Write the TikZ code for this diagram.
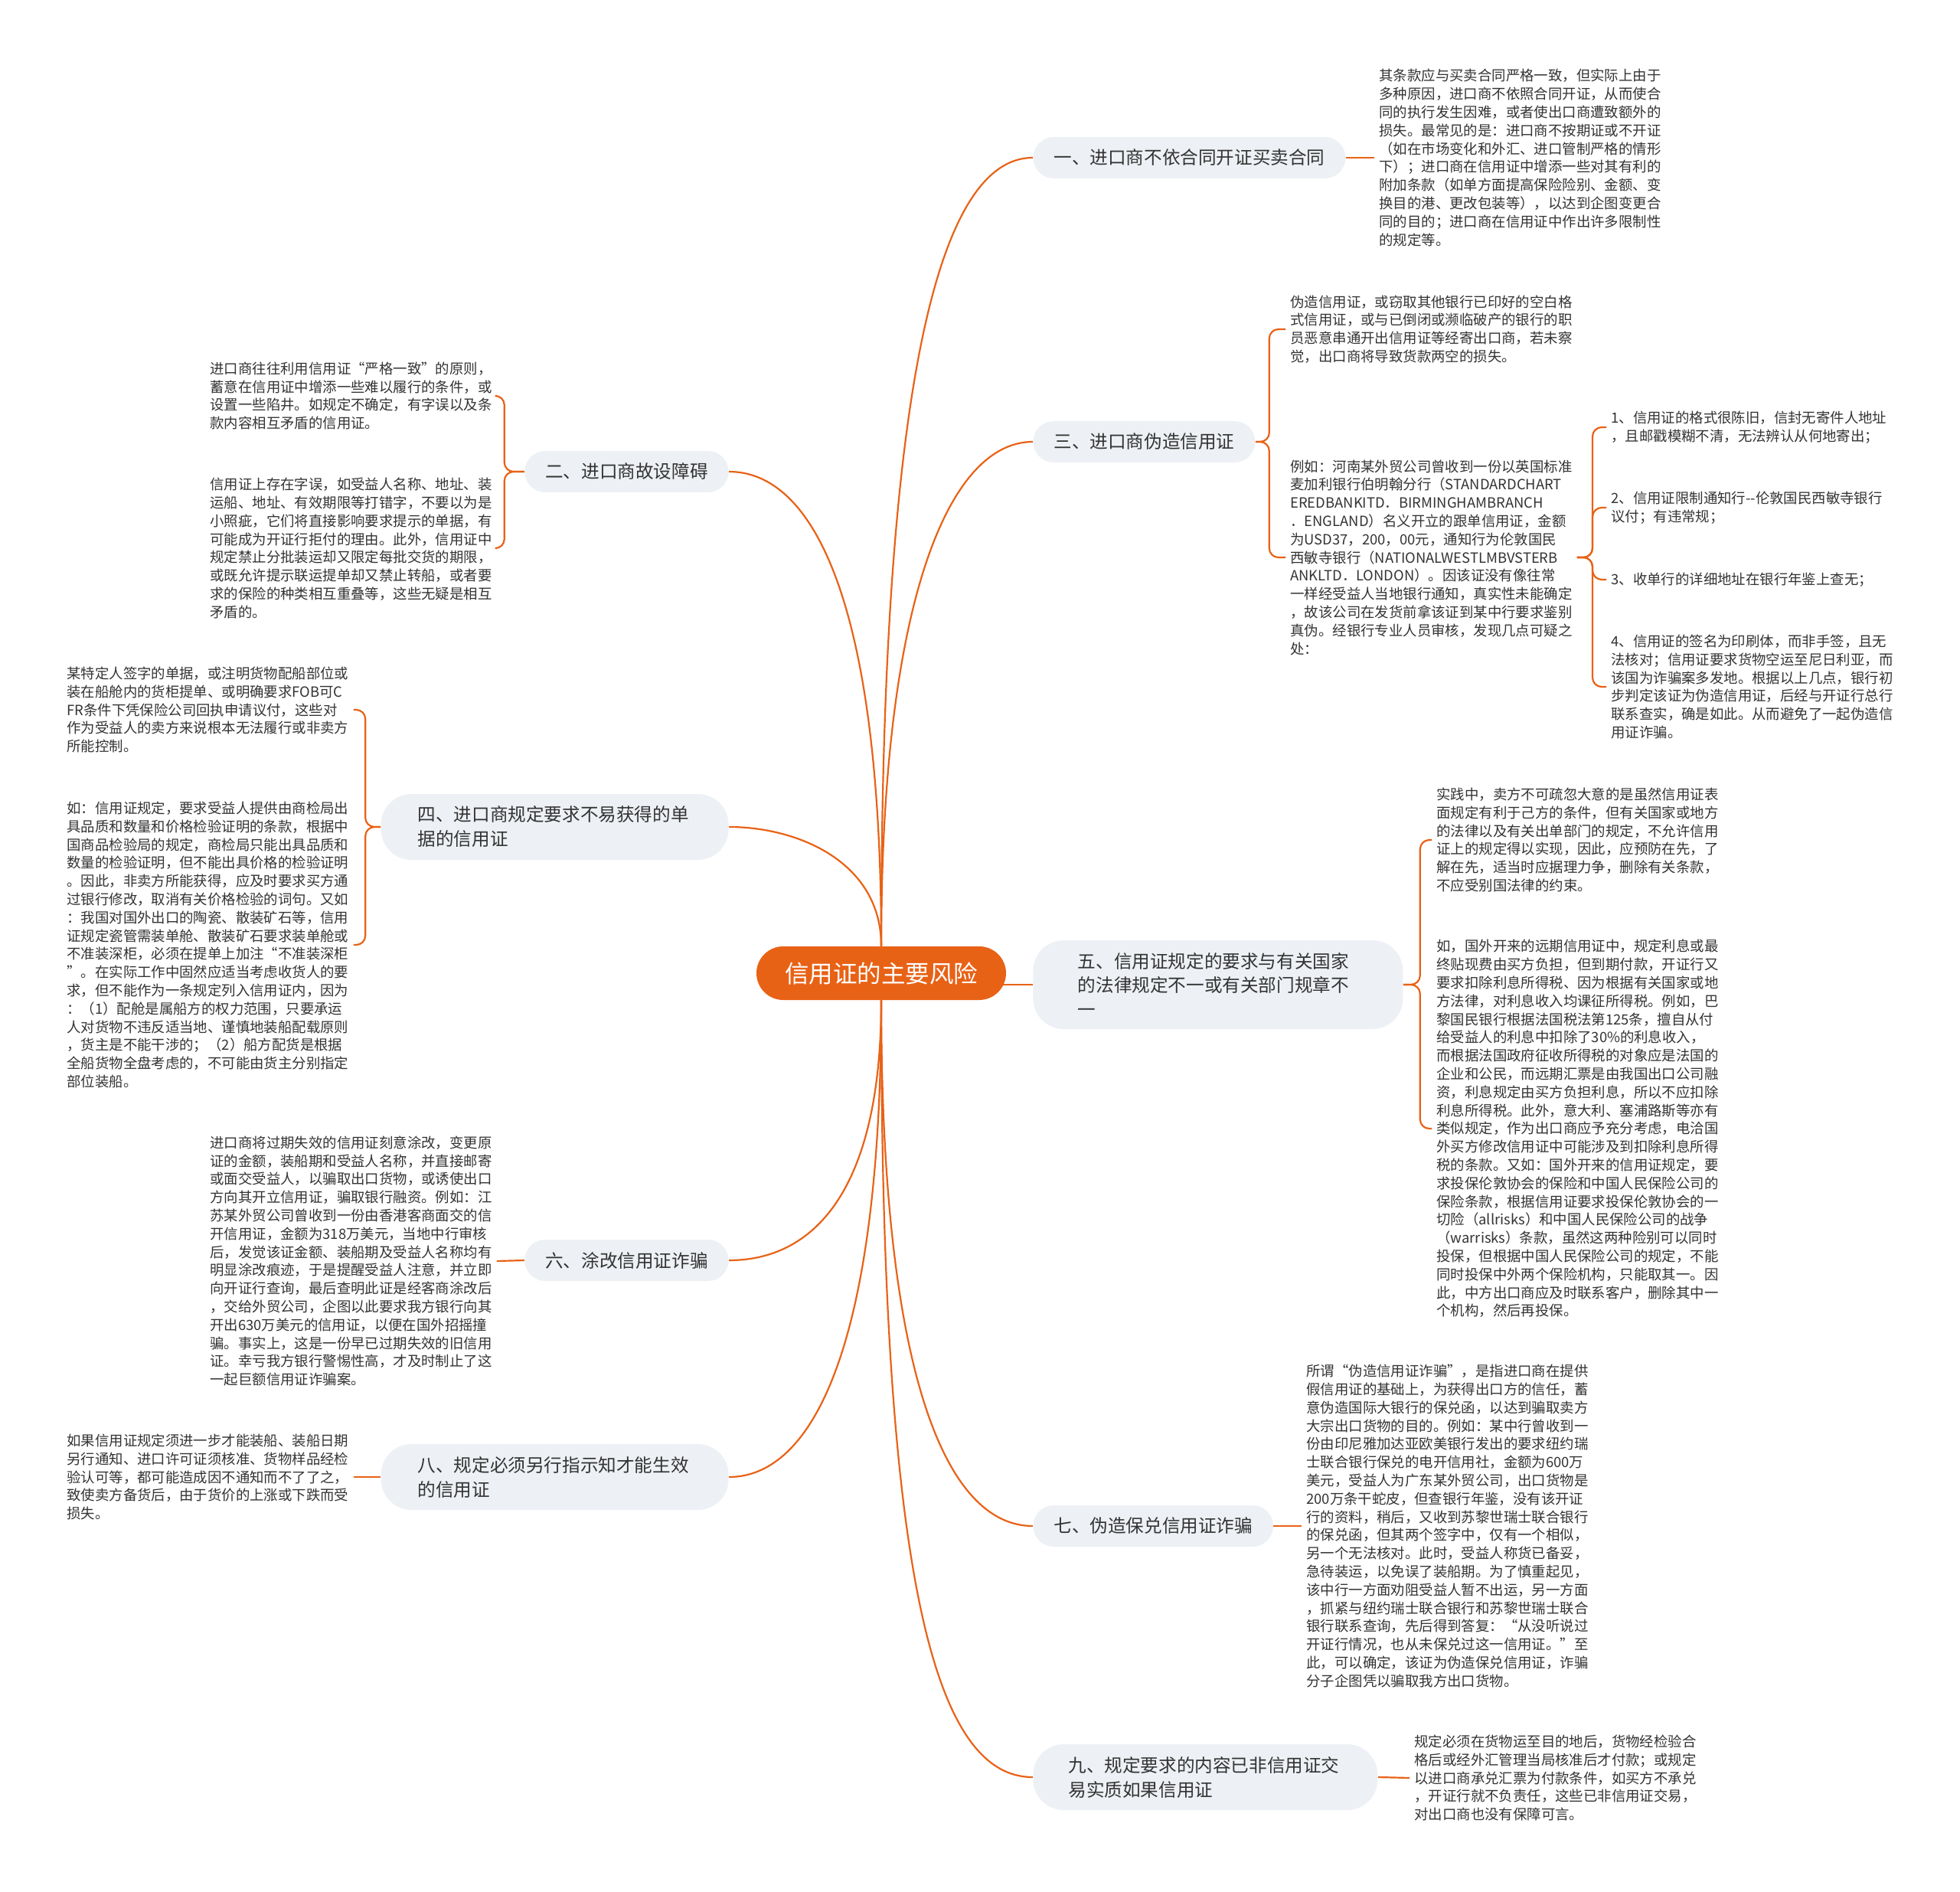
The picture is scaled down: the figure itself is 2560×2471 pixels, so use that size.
\documentclass[tikz,border=0pt]{standalone}
\usepackage{fontspec}
\newfontfamily\cjk{Noto Sans CJK SC}
\usetikzlibrary{calc}
\pgfdeclarelayer{bg}
\pgfsetlayers{bg,main}
\definecolor{org}{RGB}{232,98,22}
\definecolor{bfill}{RGB}{237,240,244}
\definecolor{txt}{RGB}{51,51,51}
\begin{document}
\begin{tikzpicture}[x=0.5pt,y=-0.5pt,
 centernode/.style={fill=org, text=white, rounded corners=17.5pt, minimum height=35pt, inner xsep=18.5pt, inner ysep=0pt, font={\cjk\fontsize{15.75pt}{18pt}\selectfont}},
 branch/.style={fill=bfill, text=txt, rounded corners=13.5pt, minimum height=27pt, inner xsep=13.5pt, inner ysep=0pt, font={\cjk\fontsize{11.8pt}{16pt}\selectfont}},
 mbranch/.style={branch, rounded corners=20pt, align=left},
 leaf/.style={text=txt, align=left, inner xsep=3pt, inner ysep=0pt, font={\cjk\fontsize{9.2pt}{11.9pt}\selectfont}},
 link/.style={draw=org, line width=1.1pt},
 brk/.style={link, rounded corners=6pt},
]
\useasboundingbox (0,0) rectangle (2560,2471);
\begin{pgfonlayer}{bg}
\fill[white] (0,0) rectangle (2560,2471);
\end{pgfonlayer}

% center
\node[centernode] (c) at (1151,1271) {信用证的主要风险};

% branches
\node[branch, anchor=west] (b1) at (1349,206) {一、进口商不依合同开证买卖合同};
\node[branch, anchor=east] (b2) at (952,616) {二、进口商故设障碍};
\node[branch, anchor=west] (b3) at (1349,577) {三、进口商伪造信用证};
\node[mbranch, anchor=east, text width=179pt, inner xsep=24pt, minimum height=43pt] (b4) at (952,1080) {四、进口商规定要求不易获得的单\\据的信用证};
\node[mbranch, anchor=west, text width=183pt, inner xsep=29.25pt, minimum height=58pt] (b5) at (1349,1286) {五、信用证规定的要求与有关国家\\的法律规定不一或有关部门规章不\\一};
\node[branch, anchor=east] (b6) at (952,1646) {六、涂改信用证诈骗};
\node[branch, anchor=west] (b7) at (1349,1993) {七、伪造保兑信用证诈骗};
\node[mbranch, anchor=east, text width=179pt, inner xsep=24pt, minimum height=43pt] (b8) at (952,1929) {八、规定必须另行指示知才能生效\\的信用证};
\node[mbranch, anchor=west, text width=179pt, inner xsep=23pt, minimum height=43pt] (b9) at (1349,2321) {九、规定要求的内容已非信用证交\\易实质如果信用证};

% leaves
\node[leaf, anchor=west] (t1) at (1795,206) {其条款应与买卖合同严格一致，但实际上由于\\多种原因，进口商不依照合同开证，从而使合\\同的执行发生因难，或者使出口商遭致额外的\\损失。最常见的是：进口商不按期证或不开证\\（如在市场变化和外汇、进口管制严格的情形\\下）；进口商在信用证中增添一些对其有利的\\附加条款（如单方面提高保险险别、金额、变\\换目的港、更改包装等），以达到企图变更合\\同的目的；进口商在信用证中作出许多限制性\\的规定等。};

\node[leaf, anchor=west] (t2a) at (268,517) {进口商往往利用信用证“严格一致”的原则，\\蓄意在信用证中增添一些难以履行的条件，或\\设置一些陷井。如规定不确定，有字误以及条\\款内容相互矛盾的信用证。};
\node[leaf, anchor=west] (t2b) at (268,716) {信用证上存在字误，如受益人名称、地址、装\\运船、地址、有效期限等打错字，不要以为是\\小照疵，它们将直接影响要求提示的单据，有\\可能成为开证行拒付的理由。此外，信用证中\\规定禁止分批装运却又限定每批交货的期限，\\或既允许提示联运提单却又禁止转船，或者要\\求的保险的种类相互重叠等，这些无疑是相互\\矛盾的。};

\node[leaf, anchor=west] (t3a) at (1679,430) {伪造信用证，或窃取其他银行已印好的空白格\\式信用证，或与已倒闭或濒临破产的银行的职\\员恶意串通开出信用证等经寄出口商，若未察\\觉，出口商将导致货款两空的损失。};
\node[leaf, anchor=west] (t3b) at (1679,728) {例如：河南某外贸公司曾收到一份以英国标准\\麦加利银行伯明翰分行（STANDARDCHART\\EREDBANKITD．BIRMINGHAMBRANCH\\．ENGLAND）名义开立的跟单信用证，金额\\为USD37，200，00元，通知行为伦敦国民\\西敏寺银行（NATIONALWESTLMBVSTERB\\ANKLTD．LONDON）。因该证没有像往常\\一样经受益人当地银行通知，真实性未能确定\\，故该公司在发货前拿该证到某中行要求鉴别\\真伪。经银行专业人员审核，发现几点可疑之\\处：};

\node[leaf, anchor=west] (s1) at (2098,558) {1、信用证的格式很陈旧，信封无寄件人地址\\，且邮戳模糊不清，无法辨认从何地寄出；};
\node[leaf, anchor=west] (s2) at (2098,663) {2、信用证限制通知行--伦敦国民西敏寺银行\\议付；有违常规；};
\node[leaf, anchor=west] (s3) at (2098,757) {3、收单行的详细地址在银行年鉴上查无；};
\node[leaf, anchor=west] (s4) at (2098,897) {4、信用证的签名为印刷体，而非手签，且无\\法核对；信用证要求货物空运至尼日利亚，而\\该国为诈骗案多发地。根据以上几点，银行初\\步判定该证为伪造信用证，后经与开证行总行\\联系查实，确是如此。从而避免了一起伪造信\\用证诈骗。};

\node[leaf, anchor=west] (t4a) at (81,927) {某特定人签字的单据，或注明货物配船部位或\\装在船舱内的货柜提单、或明确要求FOB可C\\FR条件下凭保险公司回执申请议付，这些对\\作为受益人的卖方来说根本无法履行或非卖方\\所能控制。};
\node[leaf, anchor=west] (t4b) at (81,1234) {如：信用证规定，要求受益人提供由商检局出\\具品质和数量和价格检验证明的条款，根据中\\国商品检验局的规定，商检局只能出具品质和\\数量的检验证明，但不能出具价格的检验证明\\。因此，非卖方所能获得，应及时要求买方通\\过银行修改，取消有关价格检验的词句。又如\\：我国对国外出口的陶瓷、散装矿石等，信用\\证规定瓷管需装单舱、散装矿石要求装单舱或\\不准装深柜，必须在提单上加注“不准装深柜\\”。在实际工作中固然应适当考虑收货人的要\\求，但不能作为一条规定列入信用证内，因为\\：（1）配舱是属船方的权力范围，只要承运\\人对货物不违反适当地、谨慎地装船配载原则\\，货主是不能干涉的；（2）船方配货是根据\\全船货物全盘考虑的，不可能由货主分别指定\\部位装船。};

\node[leaf, anchor=west] (t5a) at (1870,1097) {实践中，卖方不可疏忽大意的是虽然信用证表\\面规定有利于己方的条件，但有关国家或地方\\的法律以及有关出单部门的规定，不允许信用\\证上的规定得以实现，因此，应预防在先，了\\解在先，适当时应据理力争，删除有关条款，\\不应受别国法律的约束。};
\node[leaf, anchor=west] (t5b) at (1870,1474) {如，国外开来的远期信用证中，规定利息或最\\终贴现费由买方负担，但到期付款，开证行又\\要求扣除利息所得税、因为根据有关国家或地\\方法律，对利息收入均课征所得税。例如，巴\\黎国民银行根据法国税法第125条，擅自从付\\给受益人的利息中扣除了30\%的利息收入，\\而根据法国政府征收所得税的对象应是法国的\\企业和公民，而远期汇票是由我国出口公司融\\资，利息规定由买方负担利息，所以不应扣除\\利息所得税。此外，意大利、塞浦路斯等亦有\\类似规定，作为出口商应予充分考虑，电洽国\\外买方修改信用证中可能涉及到扣除利息所得\\税的条款。又如：国外开来的信用证规定，要\\求投保伦敦协会的保险和中国人民保险公司的\\保险条款，根据信用证要求投保伦敦协会的一\\切险（allrisks）和中国人民保险公司的战争\\（warrisks）条款，虽然这两种险别可以同时\\投保，但根据中国人民保险公司的规定，不能\\同时投保中外两个保险机构，只能取其一。因\\此，中方出口商应及时联系客户，删除其中一\\个机构，然后再投保。};

\node[leaf, anchor=west] (t6) at (268,1647) {进口商将过期失效的信用证刻意涂改，变更原\\证的金额，装船期和受益人名称，并直接邮寄\\或面交受益人，以骗取出口货物，或诱使出口\\方向其开立信用证，骗取银行融资。例如：江\\苏某外贸公司曾收到一份由香港客商面交的信\\开信用证，金额为318万美元，当地中行审核\\后，发觉该证金额、装船期及受益人名称均有\\明显涂改痕迹，于是提醒受益人注意，并立即\\向开证行查询，最后查明此证是经客商涂改后\\，交给外贸公司，企图以此要求我方银行向其\\开出630万美元的信用证，以便在国外招摇撞\\骗。事实上，这是一份早已过期失效的旧信用\\证。幸亏我方银行警惕性高，才及时制止了这\\一起巨额信用证诈骗案。};

\node[leaf, anchor=west] (t8) at (81,1929) {如果信用证规定须进一步才能装船、装船日期\\另行通知、进口许可证须核准、货物样品经检\\验认可等，都可能造成因不通知而不了了之，\\致使卖方备货后，由于货价的上涨或下跌而受\\损失。};

\node[leaf, anchor=west] (t7) at (1700,1993) {所谓“伪造信用证诈骗”，是指进口商在提供\\假信用证的基础上，为获得出口方的信任，蓄\\意伪造国际大银行的保兑函，以达到骗取卖方\\大宗出口货物的目的。例如：某中行曾收到一\\份由印尼雅加达亚欧美银行发出的要求纽约瑞\\士联合银行保兑的电开信用社，金额为600万\\美元，受益人为广东某外贸公司，出口货物是\\200万条干蛇皮，但查银行年鉴，没有该开证\\行的资料，稍后，又收到苏黎世瑞士联合银行\\的保兑函，但其两个签字中，仅有一个相似，\\另一个无法核对。此时，受益人称货已备妥，\\急待装运，以免误了装船期。为了慎重起见，\\该中行一方面劝阻受益人暂不出运，另一方面\\，抓紧与纽约瑞士联合银行和苏黎世瑞士联合\\银行联系查询，先后得到答复：“从没听说过\\开证行情况，也从未保兑过这一信用证。”至\\此，可以确定，该证为伪造保兑信用证，诈骗\\分子企图凭以骗取我方出口货物。};

\node[leaf, anchor=west] (t9) at (1841,2322) {规定必须在货物运至目的地后，货物经检验合\\格后或经外汇管理当局核准后才付款；或规定\\以进口商承兑汇票为付款条件，如买方不承兑\\，开证行就不负责任，这些已非信用证交易，\\对出口商也没有保障可言。};

% connectors
\begin{pgfonlayer}{bg}
\draw[link] (c.north) .. controls +(0,-700) and +(-130,0) .. (b1.west);
\draw[link] (c.north) .. controls +(0,-450) and +(-110,0) .. (b3.west);
\draw[link] (c.north) .. controls +(0,-450) and +(110,0) .. (b2.east);
\draw[link] (c.north) .. controls +(0,-110) and +(90,0) .. (b4.east);
\draw[link] ($(c.east |- b5.west)+(-12,0)$) -- (b5.west);
\draw[link] (c.south) .. controls +(0,250) and +(110,0) .. (b6.east);
\draw[link] (c.south) .. controls +(0,450) and +(110,0) .. (b8.east);
\draw[link] (c.south) .. controls +(0,500) and +(-110,0) .. (b7.west);
\draw[link] (c.south) .. controls +(0,750) and +(-130,0) .. (b9.west);

\draw[link] (b1.east) -- (t1.west);
\coordinate (k2) at ($(b2.west)+(-26,0)$);
\draw[brk] (b2.west) -- (k2) -- (k2 |- t2a.east) -- (t2a.east);
\draw[brk] (b2.west) -- (k2) -- (k2 |- t2b.east) -- (t2b.east);
\coordinate (k3) at ($(b3.east)+(18,0)$);
\draw[brk] (b3.east) -- (k3) -- (k3 |- t3a.west) -- (t3a.west);
\draw[brk] (b3.east) -- (k3) -- (k3 |- t3b.west) -- (t3b.west);
\coordinate (ks) at ($(s1.west)+(-18,0)$);
\draw[brk] (t3b.east) -- (ks |- t3b.east) -- (ks |- s1.west) -- (s1.west);
\draw[brk] (t3b.east) -- (ks |- t3b.east) -- (ks |- s2.west) -- (s2.west);
\draw[brk] (t3b.east) -- (ks |- t3b.east) -- (ks |- s3.west) -- (s3.west);
\draw[brk] (t3b.east) -- (ks |- t3b.east) -- (ks |- s4.west) -- (s4.west);
\coordinate (k4) at ($(b4.west)+(-20,0)$);
\draw[brk] (b4.west) -- (k4) -- (k4 |- t4a.east) -- (t4a.east);
\draw[brk] (b4.west) -- (k4) -- (k4 |- t4b.east) -- (t4b.east);
\coordinate (k5) at ($(b5.east)+(22,0)$);
\draw[brk] (b5.east) -- (k5) -- (k5 |- t5a.west) -- (t5a.west);
\draw[brk] (b5.east) -- (k5) -- (k5 |- t5b.west) -- (t5b.west);
\draw[link] (b6.west) -- (t6.east);
\draw[link] (b8.west) -- (t8.east);
\draw[link] (b7.east) -- (t7.west);
\draw[link] (b9.east) -- (t9.west);
\end{pgfonlayer}
\end{tikzpicture}
\end{document}
